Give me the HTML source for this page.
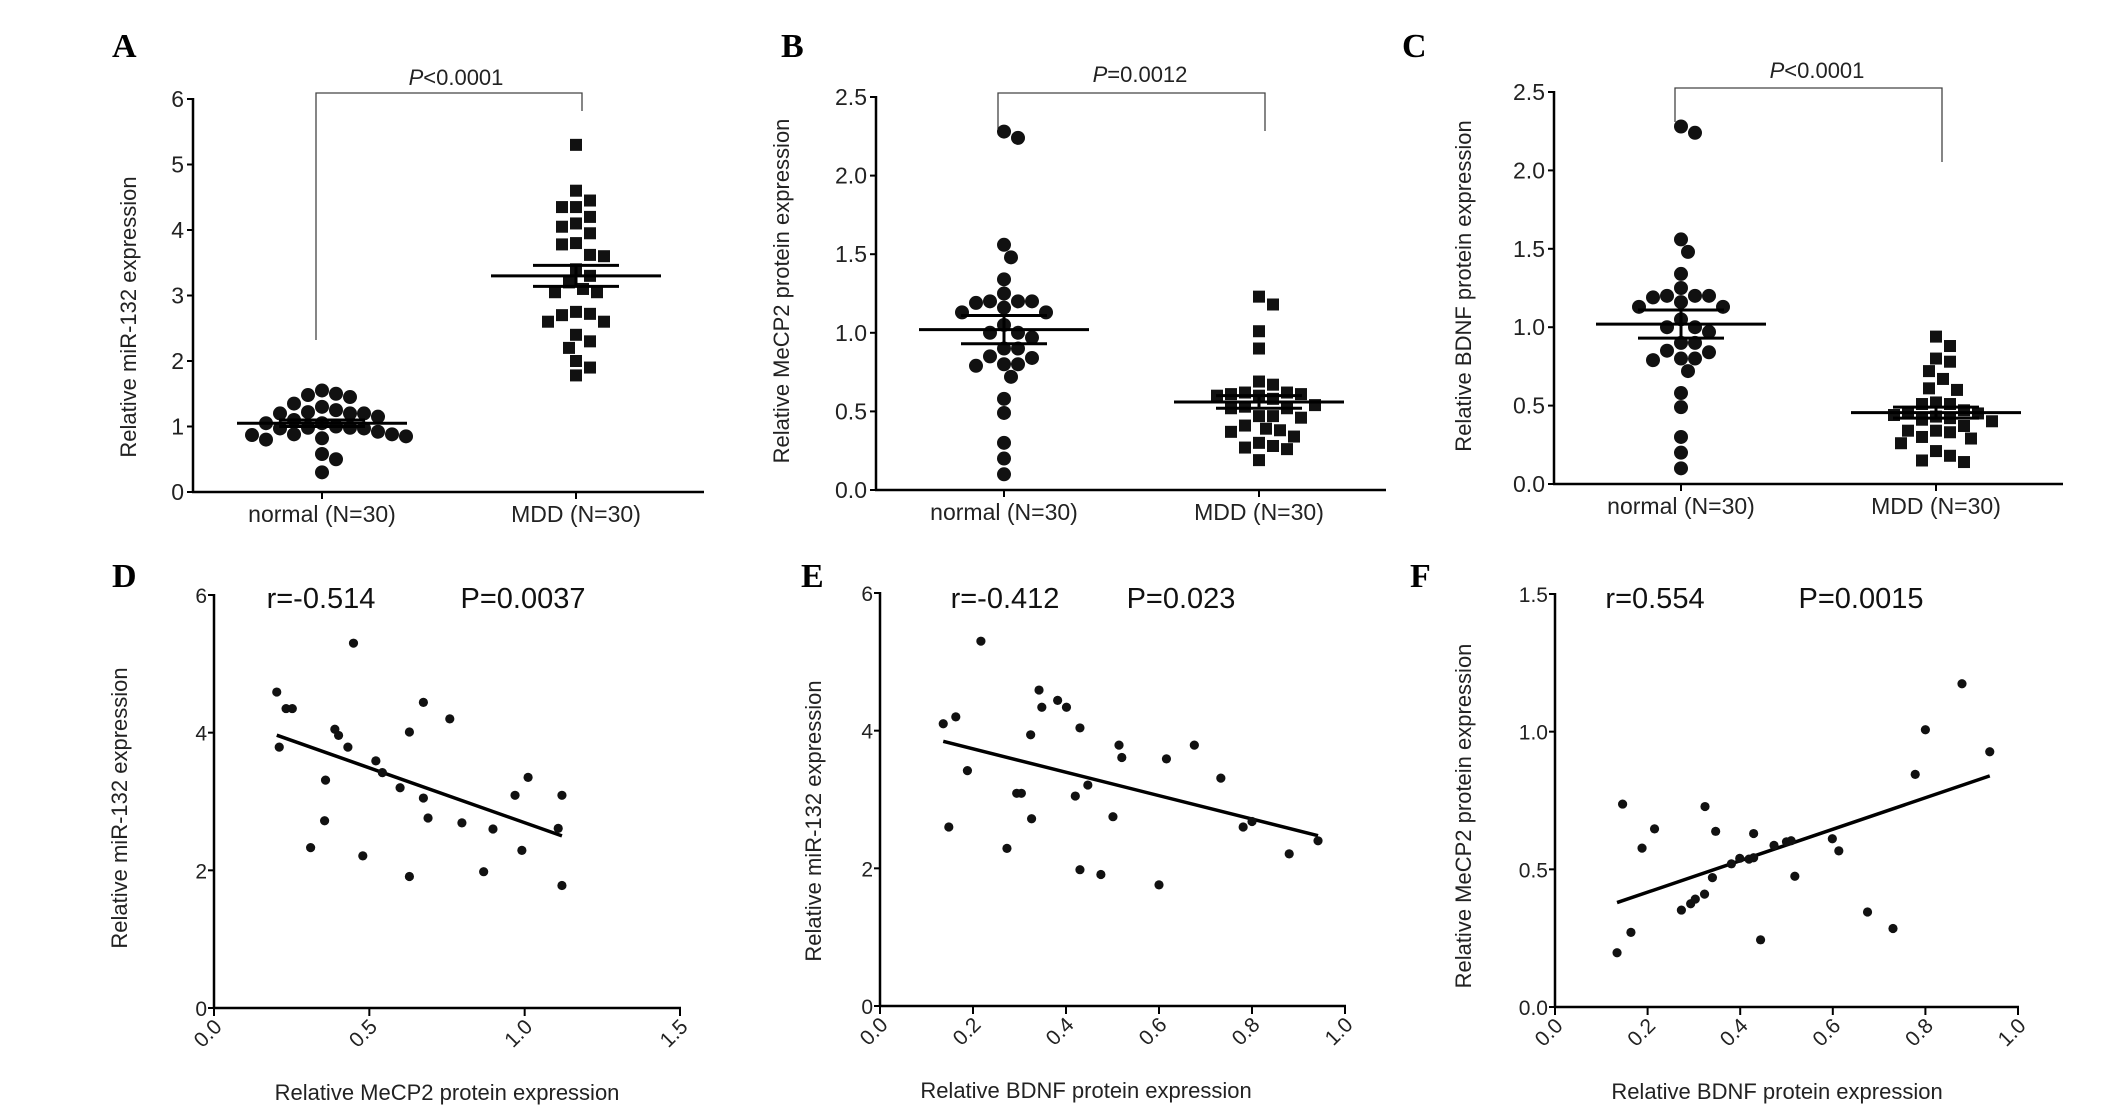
<!DOCTYPE html>
<html><head><meta charset="utf-8"><style>
html,body{margin:0;padding:0;background:#fff;}
svg{display:block;font-family:"Liberation Sans",Arial,sans-serif;}
</style></head><body>
<svg id="fig" width="2126" height="1113" viewBox="0 0 2126 1113" xmlns="http://www.w3.org/2000/svg"></svg>
<script>
// ---- Data ----
const categories = ["normal (N=30)", "MDD (N=30)"];
const aNormal = [1.35,1.25,1.2,1.2,1.15,1.1,1.5,1.45,1.48,1.55,1.2,1.22,1.3,0.98,0.97,0.92,0.88,0.8,0.82,0.85,0.87,0.88,0.97,0.98,1.05,1.05,0.58,0.5,0.3,1.0];
const aMDD = [5.3,4.6,4.45,4.35,4.35,4.2,4.1,4.05,3.95,3.8,3.78,3.62,3.6,3.4,3.3,3.2,3.1,3.05,3.05,2.75,2.7,2.72,2.6,2.6,2.4,2.3,2.2,2.0,1.9,1.78];
const aMean = [1.05, 3.3];
const aSem = [0.05, 0.16];
const bNormal = [2.28,2.24,1.56,1.48,1.34,1.25,1.2,1.2,1.19,1.2,1.16,1.13,1.13,1.05,1.0,1.0,0.97,0.9,0.9,0.84,0.85,0.8,0.79,0.8,0.72,0.58,0.49,0.3,0.2,0.1];
const bMDD = [1.23,1.18,1.01,0.9,0.69,0.67,0.62,0.61,0.6,0.58,0.6,0.61,0.62,0.54,0.53,0.52,0.52,0.47,0.47,0.46,0.41,0.38,0.39,0.37,0.34,0.3,0.27,0.28,0.26,0.19];
const bMean = [1.02, 0.56];
const bSem = [0.09, 0.04];
const cNormal = [2.28,2.24,1.56,1.48,1.34,1.25,1.2,1.2,1.19,1.2,1.16,1.13,1.13,1.05,1.0,1.0,0.97,0.9,0.9,0.84,0.85,0.8,0.79,0.8,0.72,0.58,0.49,0.3,0.2,0.1];
const cMDD = [0.94,0.88,0.80,0.78,0.72,0.67,0.61,0.60,0.51,0.52,0.51,0.47,0.46,0.45,0.44,0.43,0.42,0.41,0.40,0.37,0.34,0.34,0.33,0.30,0.29,0.26,0.21,0.18,0.15,0.14];
const cMean = [1.02, 0.455];
const cSem = [0.09, 0.035];
const yTicksA = [0,1,2,3,4,5,6];
const yTicksBC = [0,0.5,1.0,1.5,2.0,2.5];
const dX = [.202,.21,.232,.252,.389,.401,.431,.449,.359,.356,.311,.479,.521,.542,.599,.629,.629,.674,.674,.689,.759,.798,.868,.898,.969,.991,1.011,1.108,1.12,1.12];
const dY = [4.59,3.79,4.35,4.35,4.05,3.96,3.79,5.30,3.31,2.72,2.33,2.21,3.59,3.42,3.20,4.01,1.91,4.44,3.05,2.76,4.20,2.69,1.98,2.60,3.09,2.29,3.35,2.61,3.09,1.78];
const eX = [.136,.148,.163,.188,.217,.273,.294,.304,.324,.326,.342,.348,.382,.401,.420,.43,.43,.447,.475,.501,.514,.52,.60,.616,.676,.733,.781,.80,.88,.942];
const eY = [4.10,2.60,4.20,3.42,5.30,2.29,3.09,3.09,3.94,2.72,4.59,4.34,4.44,4.34,3.05,4.04,1.98,3.21,1.91,2.75,3.79,3.61,1.76,3.59,3.79,3.31,2.60,2.68,2.21,2.40];
const fX = [.134,.146,.164,.188,.215,.273,.293,.303,.323,.324,.340,.347,.381,.399,.419,.429,.429,.444,.473,.50,.51,.518,.599,.613,.675,.73,.778,.80,.879,.939];
const fY = [.197,.737,.271,.577,.647,.352,.375,.392,.410,.728,.470,.638,.520,.540,.537,.542,.630,.244,.587,.600,.604,.475,.611,.567,.345,.285,.845,1.007,1.174,.927];
const xTicksD = [0,0.5,1.0,1.5];
const xTicksEF = [0,0.2,0.4,0.6,0.8,1.0];
const yTicksDE = [0,2,4,6];
const yTicksF = [0,0.5,1.0,1.5];

const NS="http://www.w3.org/2000/svg";
const svg=document.getElementById('fig');
function mk(tag,attrs,parent){const e=document.createElementNS(NS,tag);for(const k in attrs)e.setAttribute(k,attrs[k]);(parent||svg).appendChild(e);return e;}
function txt(s,attrs,parent){const e=mk('text',attrs,parent);e.textContent=s;return e;}
function fmt(v,d){return v.toFixed(d);}

function panelLabel(ch,x,y){
  const t=txt(ch,{x:x,y:y,'font-family':'"Liberation Serif",serif','font-weight':'bold','font-size':34,fill:'#000'});
  
  
}

function beeswarm(vals,yf,diam){
  const placed=[];const out=[];
  const order=vals.map((v,i)=>i).sort((a,b)=>vals[b]-vals[a]);
  const res=new Array(vals.length);
  for(const i of order){
    const y=yf(vals[i]);
    let k=0;
    while(true){
      const cands=k===0?[0]:[k*diam*0.5,-k*diam*0.5];
      let found=null;
      for(const c of cands){
        let ok=true;
        for(const p of placed){const dx=p.x-c,dy=p.y-y;if(dx*dx+dy*dy<diam*diam*0.98){ok=false;break;}}
        if(ok){found=c;break;}
      }
      if(found!==null){placed.push({x:found,y:y});res[i]=found;break;}
      k++;
    }
  }
  return res;
}

function dotPanel(cfg){
  const g=mk('g',{});
  
  
  const yf=v=>cfg.y0-(v/cfg.ymax)*(cfg.y0-cfg.yTop);
  // axes
  const ya=mk('line',{x1:cfg.ax,y1:cfg.yTop-1,x2:cfg.ax,y2:cfg.y0,stroke:'#000','stroke-width':2.5},g);
  
  const xa=mk('line',{x1:cfg.ax-1,y1:cfg.y0,x2:cfg.xEnd,y2:cfg.y0,stroke:'#000','stroke-width':2.5},g);
  
  cfg.ticks.forEach(t=>{
    const y=yf(t);
    mk('line',{x1:cfg.ax-6,y1:y,x2:cfg.ax,y2:y,stroke:'#000','stroke-width':2},g);
    const l=txt(fmt(t,cfg.dec),{x:cfg.ax-9,y:y+8,'text-anchor':'end','font-size':23,fill:'#222'},g);
    
  });
  [cfg.c1,cfg.c2].forEach((cx,i)=>{
    mk('line',{x1:cx,y1:cfg.y0,x2:cx,y2:cfg.y0+7,stroke:'#000','stroke-width':2},g);
    const l=txt(categories[i],{x:cx,y:cfg.y0+30,'text-anchor':'middle','font-size':23,fill:'#222'},g);
    
  });
  const yt=txt(cfg.ytitle,{x:0,y:0,'text-anchor':'middle','font-size':22,fill:'#222',transform:`translate(${cfg.ytx},${cfg.yty}) rotate(-90)`},g);
  
  // bracket
  const br=mk('path',{d:`M${cfg.c1-6},${cfg.bl} V${cfg.by} H${cfg.c2+6} V${cfg.br}`,fill:'none',stroke:'#444','stroke-width':1.3},g);
  
  const pt=txt('',{x:cfg.px,y:cfg.py,'text-anchor':'middle','font-size':22,fill:'#222'},g);
  
  const ts=document.createElementNS(NS,'tspan');ts.setAttribute('font-style','italic');ts.textContent='P';pt.appendChild(ts);
  pt.appendChild(document.createTextNode(cfg.ptext));
  // points
  const off1=beeswarm(cfg.g1,yf,14);
  cfg.g1.forEach((v,i)=>{
    const c=mk('circle',{cx:cfg.c1+off1[i],cy:yf(v),r:7,fill:'#111'},g);
    
  });
  const off2=beeswarm(cfg.g2,yf,14);
  cfg.g2.forEach((v,i)=>{
    const s=mk('rect',{x:cfg.c2+off2[i]-6,y:yf(v)-6,width:12,height:12,fill:'#111'},g);
    
  });
  // mean & sem
  [cfg.c1,cfg.c2].forEach((cx,i)=>{
    const m=cfg.mean[i],s=cfg.sem[i];
    const ml=mk('line',{x1:cx-85,y1:yf(m),x2:cx+85,y2:yf(m),stroke:'#000','stroke-width':3},g);
    
    const e=mk('path',{d:`M${cx-43},${yf(m+s)} H${cx+43} M${cx-43},${yf(m-s)} H${cx+43} M${cx},${yf(m+s)} V${yf(m-s)}`,stroke:'#000','stroke-width':3,fill:'none'},g);
    
  });
}

function scatterPanel(cfg){
  const g=mk('g',{});
  
  
  const xf=v=>cfg.ax+(v/cfg.xmax)*(cfg.xEnd-cfg.ax);
  const yf=v=>cfg.y0-(v/cfg.ymax)*(cfg.y0-cfg.yTop);
  const ya=mk('line',{x1:cfg.ax,y1:cfg.yTop-1,x2:cfg.ax,y2:cfg.y0,stroke:'#000','stroke-width':2.5},g);
  
  const xa=mk('line',{x1:cfg.ax-1,y1:cfg.y0,x2:cfg.xEnd+1,y2:cfg.y0,stroke:'#000','stroke-width':2.5},g);
  
  cfg.yticks.forEach(t=>{
    const y=yf(t);
    mk('line',{x1:cfg.ax-6,y1:y,x2:cfg.ax,y2:y,stroke:'#000','stroke-width':2},g);
    const l=txt(fmt(t,cfg.ydec),{x:cfg.ax-7,y:y+8,'text-anchor':'end','font-size':21,fill:'#222'},g);
    
  });
  cfg.xticks.forEach(t=>{
    const x=xf(t);
    mk('line',{x1:x,y1:cfg.y0,x2:x,y2:cfg.y0+8,stroke:'#000','stroke-width':2},g);
    const l=txt(fmt(t,1),{x:0,y:0,'text-anchor':'end','font-size':21,fill:'#222',transform:`translate(${x+9},${cfg.y0+20}) rotate(-45)`},g);
    
  });
  const xt=txt(cfg.xtitle,{x:cfg.xtx,y:cfg.y0+92,'text-anchor':'middle','font-size':22,fill:'#222'},g);
  
  const yt=txt(cfg.ytitle,{x:0,y:0,'text-anchor':'middle','font-size':22,fill:'#222',transform:`translate(${cfg.ytx},${cfg.yty}) rotate(-90)`},g);
  
  const rt=txt(cfg.rtext,{x:cfg.rx,y:608,'text-anchor':'middle','font-size':29,fill:'#111'},g);
  
  const pt=txt(cfg.ptext,{x:cfg.pxx,y:608,'text-anchor':'middle','font-size':29,fill:'#111'},g);
  
  // regression
  const n=cfg.xs.length;let sx=0,sy=0,sxx=0,sxy=0;
  for(let i=0;i<n;i++){sx+=cfg.xs[i];sy+=cfg.ys[i];sxx+=cfg.xs[i]*cfg.xs[i];sxy+=cfg.xs[i]*cfg.ys[i];}
  const b=(n*sxy-sx*sy)/(n*sxx-sx*sx),a=(sy-b*sx)/n;
  const mn=Math.min(...cfg.xs),mx=Math.max(...cfg.xs);
  const rl=mk('line',{x1:xf(mn),y1:yf(a+b*mn),x2:xf(mx),y2:yf(a+b*mx),stroke:'#000','stroke-width':3.5},g);
  
  for(let i=0;i<n;i++){
    const c=mk('circle',{cx:xf(cfg.xs[i]),cy:yf(cfg.ys[i]),r:4.6,fill:'#111'},g);
    
  }
}

panelLabel('A',112,57);panelLabel('B',781,57);panelLabel('C',1402,57);
panelLabel('D',112,587);panelLabel('E',801,587);panelLabel('F',1410,587);

dotPanel({name:'panel-a-mir132',ax:193,y0:492,yTop:99,xEnd:704,c1:322,c2:576,ymax:6,ticks:yTicksA,dec:0,
  g1:aNormal,g2:aMDD,mean:aMean,sem:aSem,ytitle:'Relative miR-132 expression',ytx:136,yty:317,
  by:93,bl:340,br:111,px:456,py:85,ptext:'<0.0001'});
dotPanel({name:'panel-b-mecp2',ax:876,y0:490,yTop:97,xEnd:1386,c1:1004,c2:1259,ymax:2.5,ticks:yTicksBC,dec:1,
  g1:bNormal,g2:bMDD,mean:bMean,sem:bSem,ytitle:'Relative MeCP2 protein expression',ytx:789,yty:291,
  by:93,bl:129,br:131,px:1140,py:82,ptext:'=0.0012'});
dotPanel({name:'panel-c-bdnf',ax:1554,y0:484,yTop:92,xEnd:2063,c1:1681,c2:1936,ymax:2.5,ticks:yTicksBC,dec:1,
  g1:cNormal,g2:cMDD,mean:cMean,sem:cSem,ytitle:'Relative BDNF protein expression',ytx:1471,yty:286,
  by:88,bl:122,br:162,px:1817,py:78,ptext:'<0.0001'});

scatterPanel({name:'panel-d-correlation',ax:214,y0:1008,yTop:595,xEnd:680,xmax:1.5,ymax:6,xticks:xTicksD,yticks:yTicksDE,ydec:0,
  xs:dX,ys:dY,xtitle:'Relative MeCP2 protein expression',xtx:447,ytitle:'Relative miR-132 expression',ytx:127,yty:808,
  rtext:'r=-0.514',rx:321,ptext:'P=0.0037',pxx:523});
scatterPanel({name:'panel-e-correlation',ax:880,y0:1006,yTop:593,xEnd:1345,xmax:1.0,ymax:6,xticks:xTicksEF,yticks:yTicksDE,ydec:0,
  xs:eX,ys:eY,xtitle:'Relative BDNF protein expression',xtx:1086,ytitle:'Relative miR-132 expression',ytx:821,yty:821,
  rtext:'r=-0.412',rx:1005,ptext:'P=0.023',pxx:1181});
scatterPanel({name:'panel-f-correlation',ax:1555,y0:1007,yTop:594,xEnd:2018,xmax:1.0,ymax:1.5,xticks:xTicksEF,yticks:yTicksF,ydec:1,
  xs:fX,ys:fY,xtitle:'Relative BDNF protein expression',xtx:1777,ytitle:'Relative MeCP2 protein expression',ytx:1471,yty:816,
  rtext:'r=0.554',rx:1655,ptext:'P=0.0015',pxx:1861});
</script>
</body></html>
